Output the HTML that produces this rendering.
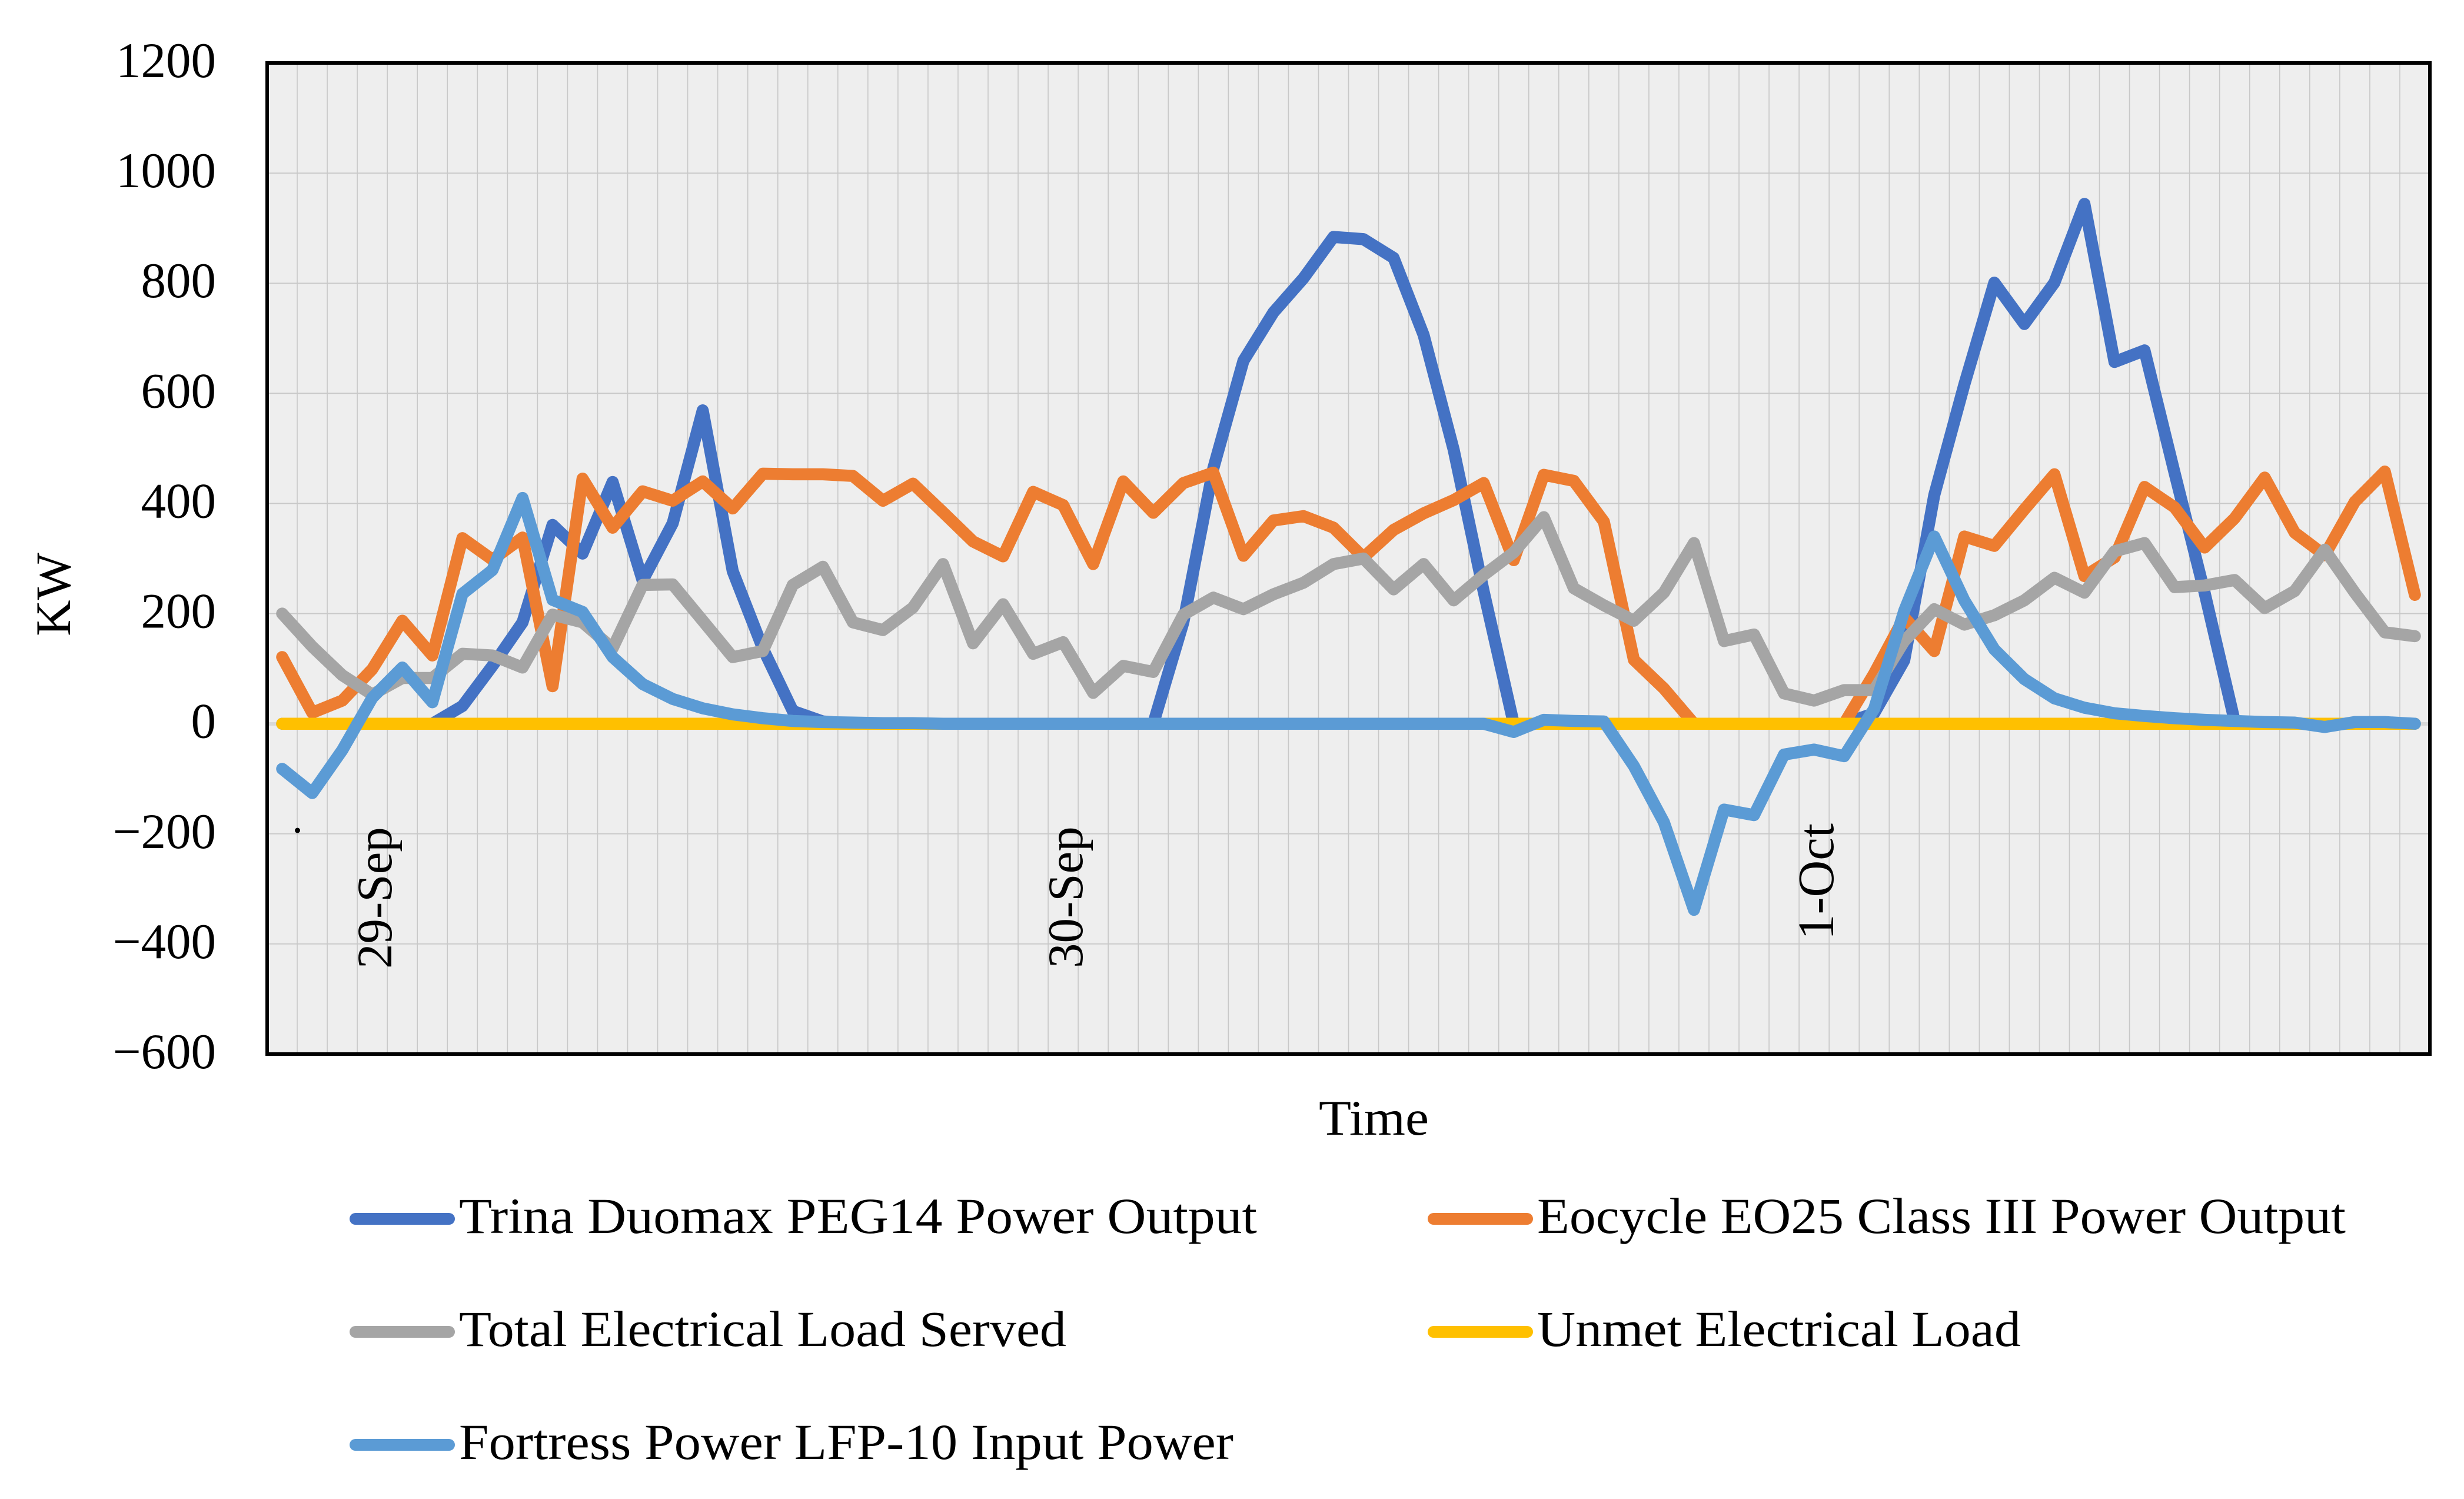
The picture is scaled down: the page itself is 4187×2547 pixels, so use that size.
<!DOCTYPE html>
<html lang="en">
<head>
<meta charset="utf-8">
<title>Power output chart</title>
<style>
html,body{margin:0;padding:0;background:#fff;width:4187px;height:2547px;overflow:hidden}
svg{display:block}
text{font-family:"Liberation Serif",serif;fill:#000}
</style>
</head>
<body>
<svg id="chart" xmlns="http://www.w3.org/2000/svg" width="4187" height="2547" viewBox="0 0 4187 2547">
<rect x="0" y="0" width="4187" height="2547" fill="#ffffff"/>
<rect x="454" y="107" width="3675" height="1684" fill="#eeeeee"/>
<g id="grid"></g>
<g id="yticks"></g>
<line x1="454" y1="1230" x2="4129" y2="1230" stroke="#d9d9d9" stroke-width="6"/>
<g id="series"></g>
<rect x="454" y="107" width="3675" height="1684" fill="none" stroke="#000" stroke-width="6"/>
<circle cx="505.5" cy="1411" r="4.5" fill="#000"/>
<text transform="translate(665,1646) rotate(-90)" font-size="85">29-Sep</text>
<text transform="translate(1839,1645) rotate(-90)" font-size="85">30-Sep</text>
<text transform="translate(3115,1597) rotate(-90)" font-size="87">1-Oct</text>
<text transform="translate(119,1010) rotate(-90)" font-size="85" text-anchor="middle">KW</text>
<text x="2241" y="1928" font-size="85" textLength="187" lengthAdjust="spacingAndGlyphs">Time</text>
<g>
<g>
<line x1="604" y1="2071" x2="763" y2="2071" stroke="#4472C4" stroke-width="20" stroke-linecap="round"/>
<text x="780" y="2095" font-size="86" textLength="1356" lengthAdjust="spacingAndGlyphs">Trina Duomax PEG14 Power Output</text>
</g>
<g>
<line x1="2436" y1="2071" x2="2595" y2="2071" stroke="#ED7D31" stroke-width="20" stroke-linecap="round"/>
<text x="2612" y="2095" font-size="86" textLength="1374" lengthAdjust="spacingAndGlyphs">Eocycle EO25 Class III Power Output</text>
</g>
<g>
<line x1="604" y1="2263" x2="763" y2="2263" stroke="#A5A5A5" stroke-width="20" stroke-linecap="round"/>
<text x="780" y="2287" font-size="86" textLength="1032" lengthAdjust="spacingAndGlyphs">Total Electrical Load Served</text>
</g>
<g>
<line x1="2436" y1="2263" x2="2595" y2="2263" stroke="#FFC000" stroke-width="20" stroke-linecap="round"/>
<text x="2612" y="2287" font-size="86" textLength="822" lengthAdjust="spacingAndGlyphs">Unmet Electrical Load</text>
</g>
<g>
<line x1="604" y1="2455" x2="763" y2="2455" stroke="#5B9BD5" stroke-width="20" stroke-linecap="round"/>
<text x="780" y="2479" font-size="86" textLength="1316" lengthAdjust="spacingAndGlyphs">Fortress Power LFP-10 Input Power</text>
</g>
</g>
</svg>
<script>
const yTicks = [1200, 1000, 800, 600, 400, 200, 0, -200, -400, -600];
const trina = [0,0,0,0,0,0,32,105,184,361,309,439,260,364,569,277,137,23,4,0,0,0,0,0,0,0,0,0,0,0,184,464,659,747,809,884,880,846,706,498,240,0,0,0,0,0,0,0,0,0,0,0,0,19,115,415,616,801,726,801,944,657,678,456,238,5,0,0,0,0,0,0];
const eocycle = [121,20,42,99,187,124,337,298,338,68,445,356,422,405,440,391,454,453,453,450,405,436,384,331,304,421,397,290,440,383,437,456,305,369,377,356,302,352,382,406,437,297,452,441,367,116,64,0,0,0,0,0,0,91,193,132,340,323,389,453,268,302,430,393,320,373,447,347,306,403,458,234];
const totalLoad = [200,140,88,53,83,83,127,124,102,198,184,137,252,253,187,121,132,252,285,184,170,211,290,146,217,127,148,56,105,94,198,229,208,235,256,290,300,244,290,224,270,311,375,246,215,187,238,328,150,162,55,42,61,61,150,208,180,197,224,265,238,313,328,248,251,261,210,241,316,238,166,159];
const unmetLoad = [0,0,0,0,0,0,0,0,0,0,0,0,0,0,0,0,0,0,0,0,0,0,0,0,0,0,0,0,0,0,0,0,0,0,0,0,0,0,0,0,0,0,0,0,0,0,0,0,0,0,0,0,0,0,0,0,0,0,0,0,0,0,0,0,0,0,0,0,0,0,0,0];
const fortress = [-82,-126,-48,47,102,39,236,279,410,225,203,121,72,45,28,17,10,5,3,2,1,1,0,0,0,0,0,0,0,0,0,0,0,0,0,0,0,0,0,0,0,-15,7,5,4,-77,-179,-338,-156,-166,-56,-47,-59,27,205,340,224,135,81,46,29,19,14,10,7,5,3,2,-6,3,3,0];

const NS = 'http://www.w3.org/2000/svg';
const plotL = 454, plotR = 4129, plotT = 107, plotB = 1791;
const yMax = 1200, yMin = -600;
const count = trina.length;
const bandW = (plotR - plotL) / count;
function xScale(i) { return plotL + bandW * (i + 0.5); }
function yScale(v) { return plotT + (yMax - v) / (yMax - yMin) * (plotB - plotT); }

const grid = document.getElementById('grid');
for (let k = 1; k < count; k++) {
  const vl = document.createElementNS(NS, 'line');
  
  
  vl.setAttribute('x1', plotL + bandW * k);
  vl.setAttribute('x2', plotL + bandW * k);
  vl.setAttribute('y1', plotT);
  vl.setAttribute('y2', plotB);
  vl.setAttribute('stroke', '#c8c8c8');
  vl.setAttribute('stroke-width', '1.6');
  grid.appendChild(vl);
}
const ytg = document.getElementById('yticks');
yTicks.forEach(function (t) {
  const y = yScale(t);
  if (t !== yMax && t !== yMin && t !== 0) {
    const hl = document.createElementNS(NS, 'line');
    
    
    hl.setAttribute('x1', plotL);
    hl.setAttribute('x2', plotR);
    hl.setAttribute('y1', y);
    hl.setAttribute('y2', y);
    hl.setAttribute('stroke', '#c8c8c8');
    hl.setAttribute('stroke-width', '1.8');
    grid.appendChild(hl);
  }
  const tx = document.createElementNS(NS, 'text');
  
  
  tx.setAttribute('x', 367);
  tx.setAttribute('y', y + 24);
  tx.setAttribute('font-size', '85');
  tx.setAttribute('text-anchor', 'end');
  tx.textContent = String(t).replace('-', '\u2212');
  ytg.appendChild(tx);
});

const sg = document.getElementById('series');
function drawSeries(values, color, name) {
  const pl = document.createElementNS(NS, 'polyline');
  
  
  pl.setAttribute('points', values.map(function (v, i) { return xScale(i).toFixed(1) + ',' + yScale(v).toFixed(1); }).join(' '));
  pl.setAttribute('fill', 'none');
  pl.setAttribute('stroke', color);
  pl.setAttribute('stroke-width', '20.5');
  pl.setAttribute('stroke-linecap', 'round');
  pl.setAttribute('stroke-linejoin', 'round');
  sg.appendChild(pl);
}
drawSeries(trina, '#4472C4', 'trina-power-line');
drawSeries(eocycle, '#ED7D31', 'eocycle-power-line');
drawSeries(totalLoad, '#A5A5A5', 'total-load-line');
drawSeries(unmetLoad, '#FFC000', 'unmet-load-line');
drawSeries(fortress, '#5B9BD5', 'fortress-input-line');
</script>
</body>
</html>
